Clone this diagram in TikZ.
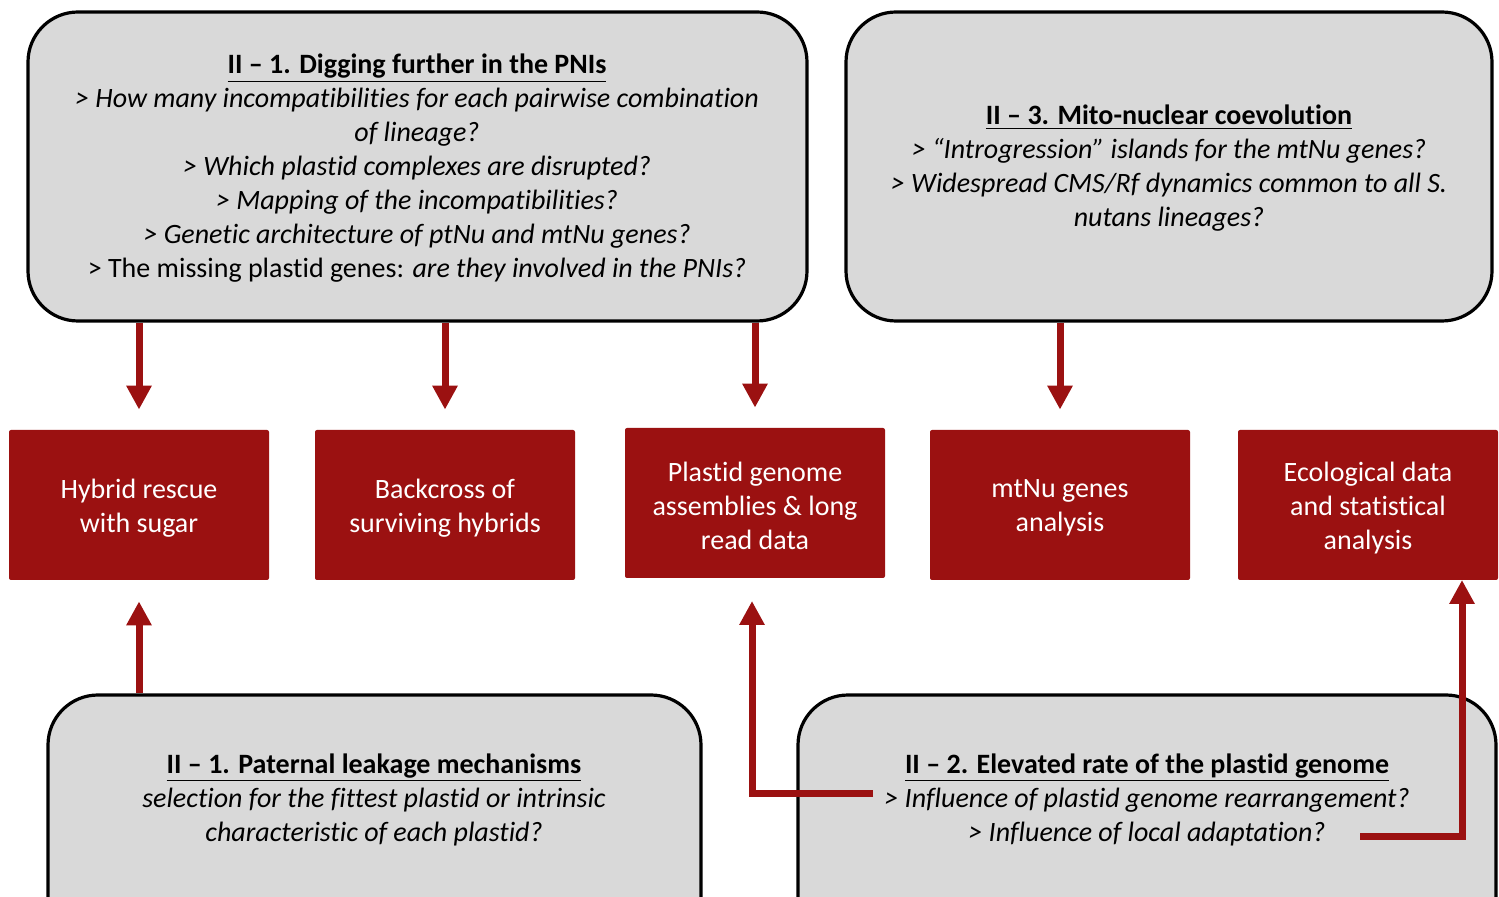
\documentclass[tikz,border=0pt]{standalone}
\usepackage{fontspec}
\setmainfont[Ligatures=NoCommon]{Carlito}
\usetikzlibrary{arrows.meta,calc}
\definecolor{dred}{HTML}{9B1111}
\definecolor{gfill}{HTML}{D9D9D9}
\newcommand{\ul}[1]{\underline{#1}}
\tikzset{
  graybox/.style={draw=black, line width=1.6pt, fill=gfill, rounded corners=25pt, inner sep=0pt},
  redbox/.style={fill=dred, rounded corners=1pt, inner sep=0pt,
     minimum width=130pt, minimum height=75pt},
  redtext/.style={text=white, align=center, inner sep=0pt, yshift=-1.5pt,
     font=\fontsize{14}{17}\selectfont},
  gtext/.style={align=center, inner sep=0pt, font=\fontsize{14}{17}\selectfont},
  link/.style={draw=dred, line width=3.5pt, -{Triangle[width=12pt,length=12pt]}},
}
\begin{document}
\begin{tikzpicture}[x=0.5pt,y=-0.5pt]
\useasboundingbox (0,0) rectangle (1499,897);
\clip (0,0) rectangle (1499,897);

% gray boxes
\node[graybox, minimum width=389.5pt, minimum height=154.5pt] (g1) at (417.5,166.5) {};
\node[graybox, minimum width=323pt, minimum height=154.5pt] (g2) at (1169,166.5) {};
\node[graybox, minimum width=326.5pt, minimum height=130pt] (g3) at (374.5,825) {};
\node[graybox, minimum width=349pt, minimum height=130pt] (g4) at (1147,825) {};

% texts
\node[gtext, anchor=base] (t1) at (417,278) {\textbf{\ul{II – 1. Digging further in the PNIs}}\\
\textit{> How many incompatibilities for each pairwise combination}\\
\textit{of lineage?}\\
\textit{> Which plastid complexes are disrupted?}\\
\textit{> Mapping of the incompatibilities?}\\
\textit{> Genetic architecture of ptNu and mtNu genes?}\\
> The missing plastid genes: \textit{are they involved in the PNIs?}};
\node[gtext, anchor=base] (t2) at (1169,227) {\textbf{\ul{II – 3. Mito-nuclear coevolution}}\\
\textit{> “Introgression” islands for the mtNu genes?}\\
\textit{> Widespread CMS/Rf dynamics common to all S.}\\
\textit{nutans lineages?}};
\node[gtext, anchor=base] (t3) at (374,841) {\textbf{\ul{II – 1. Paternal leakage mechanisms}}\\
\textit{selection for the fittest plastid or intrinsic}\\
\textit{characteristic of each plastid?}};
\node[gtext, anchor=base] (t4) at (1147,841) {\textbf{\ul{II – 2. Elevated rate of the plastid genome}}\\
\textit{> Influence of plastid genome rearrangement?}\\
\textit{> Influence of local adaptation?}};

% red boxes
\node[redbox, label={[redtext, name=l1]center:{Hybrid rescue\\with sugar}}] (r1) at (139,505) {};
\node[redbox, label={[redtext, name=l2]center:{Backcross of\\surviving hybrids}}] (r2) at (445,505) {};
\node[redbox, label={[redtext, name=l3]center:{Plastid genome\\assemblies \& long\\read data}}] (r3) at (755,503) {};
\node[redbox, label={[redtext, name=l4]center:{mtNu genes\\analysis}}] (r4) at (1060,505) {};
\node[redbox, label={[redtext, name=l5]center:{Ecological data\\and statistical\\analysis}}] (r5) at (1368,505) {};

% connectors
\draw[link, shorten >=10pt] (g1.south -| r1.north) -- (r1.north);
\draw[link, shorten >=10pt] (g1.south -| r2.north) -- (r2.north);
\draw[link, shorten >=10pt] (g1.south -| r3.north) -- (r3.north);
\draw[link, shorten >=10pt] (g2.south -| r4.north) -- (r4.north);
\draw[link, shorten >=10.5pt] (g3.north -| r1.south) -- (r1.south);

\coordinate (s1) at (873,793);
\coordinate (e1) at (752,580);
\coordinate (s2) at (1360,836);
\coordinate (e2) at (1462,580);
\draw[link, shorten >=10.5pt] (s1) -| (e1);
\draw[link] (s2) -| (e2);
\end{tikzpicture}
\end{document}
